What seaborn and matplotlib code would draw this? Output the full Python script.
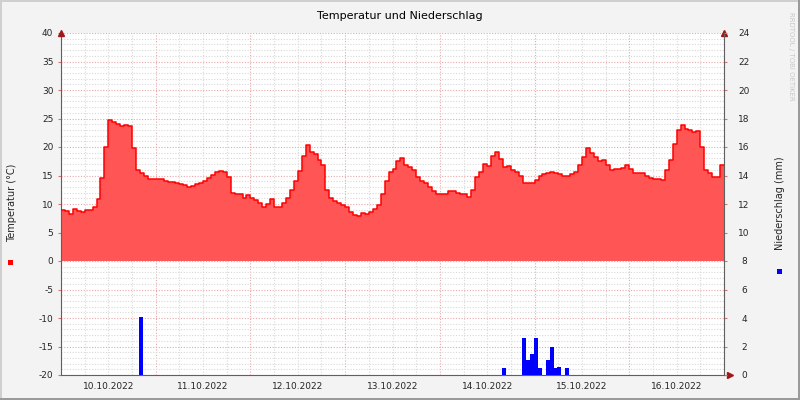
import numpy as np
import pandas as pd
import matplotlib
matplotlib.use("Agg")
import matplotlib.pyplot as plt
import seaborn as sns
from matplotlib.patches import Rectangle
from matplotlib.ticker import MultipleLocator, FixedLocator, FuncFormatter

# ---------------- data (hourly, starting 10.10.2022 00:00) ----------------
temperature = [
    8.9, 8.8, 8.3, 9.2, 8.8, 8.6, 8.9, 8.9, 9.5, 10.9,
    14.6, 20.0, 24.8, 24.4, 24.1, 23.7, 23.8, 23.6, 19.8, 16.0,
    15.4, 15.0, 14.4, 14.4, 14.4, 14.4, 14.1, 13.9, 13.9, 13.6,
    13.5, 13.3, 13.0, 13.1, 13.5, 13.6, 14.0, 14.5, 15.1, 15.6,
    15.8, 15.6, 14.8, 12.0, 11.7, 11.8, 11.1, 11.5, 11.0, 10.7,
    10.1, 9.4, 10.0, 10.8, 9.5, 9.5, 10.2, 11.0, 12.5, 14.0,
    15.8, 18.5, 20.4, 19.2, 18.7, 17.7, 16.8, 12.5, 11.0, 10.5,
    10.1, 9.9, 9.5, 8.6, 8.0, 7.9, 8.5, 8.2, 8.6, 9.2,
    9.8, 11.8, 14.0, 15.6, 16.2, 17.5, 18.1, 16.9, 16.5, 16.0,
    14.8, 14.0, 13.6, 13.0, 12.2, 11.7, 11.7, 11.8, 12.2, 12.2,
    12.0, 11.8, 11.7, 11.3, 12.5, 14.8, 15.6, 17.0, 16.7, 18.5,
    19.2, 17.9, 16.5, 16.6, 16.0, 15.6, 15.0, 13.7, 13.7, 13.7,
    14.2, 15.0, 15.3, 15.5, 15.6, 15.5, 15.3, 15.0, 15.0, 15.2,
    15.6, 16.8, 18.3, 19.8, 19.0, 18.3, 17.5, 17.8, 16.9, 16.0,
    16.1, 16.2, 16.4, 16.9, 16.2, 15.4, 15.5, 15.5, 15.0, 14.6,
    14.4, 14.3, 14.2, 16.0, 17.8, 20.5, 23.0, 23.8, 23.1, 22.9,
    22.6, 22.8, 20.0, 15.9, 15.4, 14.8, 14.8, 16.8,
]
precip_hours = [20, 112, 117, 118, 119, 120, 121, 123, 124, 125, 126, 128]
precip_mm = [4.1, 0.5, 2.6, 1.05, 1.5, 2.6, 0.5, 1.05, 2.0, 0.5, 0.58, 0.5]
day_labels = ["10.10.2022", "11.10.2022", "12.10.2022", "13.10.2022",
              "14.10.2022", "15.10.2022", "16.10.2022"]
temp_ticks = list(range(-20, 41, 5))
precip_ticks = list(range(0, 25, 2))

# ---------------- style ----------------
sns.set_style("white")
plt.rcParams["font.family"] = ["DejaVu Sans"]

W, H = 800, 400
fig = plt.figure(figsize=(8, 4), dpi=100, facecolor="#F3F3F3")
ax = fig.add_axes([61 / W, 1 - 375 / H, 663 / W, 342 / H])
ax.set_facecolor("white")

n = len(temperature)
hours = np.arange(n + 1)
tvals = np.array(temperature + [temperature[-1]])
df_t = pd.DataFrame({"h": hours, "t": tvals})

ax.fill_between(hours, 0, tvals, step="post", color="#FF5555", lw=0, zorder=2)
sns.lineplot(data=df_t, x="h", y="t", drawstyle="steps-post", color="#FF0000",
             lw=1.1, ax=ax, zorder=3)

ax.set_xlim(0, n)
ax.set_ylim(-20, 40)

# grid
minor_col = "#D8D8D8"
major_col = "#E8A8A8"
dot = (0, (1, 1.5))
ax.xaxis.set_major_locator(MultipleLocator(24))
ax.xaxis.set_minor_locator(MultipleLocator(6))
ax.yaxis.set_major_locator(FixedLocator(temp_ticks))
ax.yaxis.set_minor_locator(MultipleLocator(1))
ax.set_axisbelow(True)
ax.grid(which="major", color=major_col, linestyle=dot, lw=0.8)
ax.grid(which="minor", color=minor_col, linestyle=dot, lw=0.8)


def xfmt(v, pos):
    h = int(round(v))
    if h % 24 == 12:
        k = h // 24
        if 0 <= k < len(day_labels):
            return day_labels[k]
    return ""


ax.xaxis.set_major_formatter(FuncFormatter(lambda v, p: ""))
ax.xaxis.set_minor_formatter(FuncFormatter(xfmt))
ax.tick_params(axis="x", which="major", length=3, color="#E07070", direction="out")
ax.tick_params(axis="x", which="minor", length=0, pad=5, labelsize=6.5)
ax.tick_params(axis="y", which="major", length=2, color="#E07070", pad=3.5, labelsize=6.5)
ax.tick_params(axis="y", which="minor", length=0)
ax.set_yticklabels([str(t) for t in temp_ticks])
ax.set_xlabel("")
ax.set_ylabel("")

for s in ["top", "right"]:
    ax.spines[s].set_visible(False)
for s in ["left", "bottom"]:
    ax.spines[s].set_color("#606060")
    ax.spines[s].set_linewidth(0.8)

# precipitation axis
ax2 = ax.twinx()
ax2.bar(np.array(precip_hours) - 0.2, precip_mm, width=1.0, align="edge",
        color="#0000FF", lw=0, zorder=4)
ax2.set_ylim(0, 24)
ax2.set_xlim(0, n)
ax2.yaxis.set_major_locator(FixedLocator(precip_ticks))
ax2.set_yticklabels([str(t) for t in precip_ticks])
ax2.tick_params(axis="y", length=2, color="#E07070", pad=12.5, labelsize=6.5)
for lab in ax2.get_yticklabels():
    lab.set_horizontalalignment("center")
for s in ["top", "left", "bottom"]:
    ax2.spines[s].set_visible(False)
ax2.spines["right"].set_color("#606060")
ax2.spines["right"].set_linewidth(0.8)
ax2.grid(False)

# axis arrows
arrow_col = "#A01818"
ax.plot([0], [1], marker="^", markersize=4, color=arrow_col, transform=ax.transAxes,
        clip_on=False, zorder=10)
ax.plot([1], [1], marker="^", markersize=4, color=arrow_col, transform=ax.transAxes,
        clip_on=False, zorder=10)
ax.plot([1 + 6 / 663], [0], marker=">", markersize=4, color=arrow_col,
        transform=ax.transAxes, clip_on=False, zorder=10)

# texts
fig.text(0.5, 1 - 16 / H, "Temperatur und Niederschlag", ha="center", va="center",
         fontsize=8, color="black")
fig.text(12 / W, 1 - 203 / H, "Temperatur (°C)", rotation=90, ha="center",
         va="center", fontsize=7)
fig.text(780 / W, 1 - 203 / H, "Niederschlag (mm)", rotation=90, ha="center",
         va="center", fontsize=7)
fig.text(791 / W, 1 - 12 / H, "RRDTOOL / TOBI OETIKER", rotation=270, ha="center",
         va="top", fontsize=5, color="#C8C8C8")

# legend squares
fig.add_artist(Rectangle((8 / W, 1 - 265 / H), 5 / W, 5 / H, transform=fig.transFigure,
                         color="#FF0000", lw=0))
fig.add_artist(Rectangle((777 / W, 1 - 274 / H), 5 / W, 5 / H, transform=fig.transFigure,
                         color="#0000FF", lw=0))

# frame
fig.add_artist(Rectangle((0, 1 - 2 / H), 1, 2 / H, transform=fig.transFigure,
                         color="#CFCFCF", lw=0))
fig.add_artist(Rectangle((0, 0), 2 / W, 1, transform=fig.transFigure,
                         color="#CFCFCF", lw=0))
fig.add_artist(Rectangle((0, 0), 1, 2 / H, transform=fig.transFigure,
                         color="#9A9A9A", lw=0))
fig.add_artist(Rectangle((1 - 2 / W, 0), 2 / W, 1, transform=fig.transFigure,
                         color="#9A9A9A", lw=0))

fig.savefig("out.png", dpi=100, facecolor=fig.get_facecolor())
